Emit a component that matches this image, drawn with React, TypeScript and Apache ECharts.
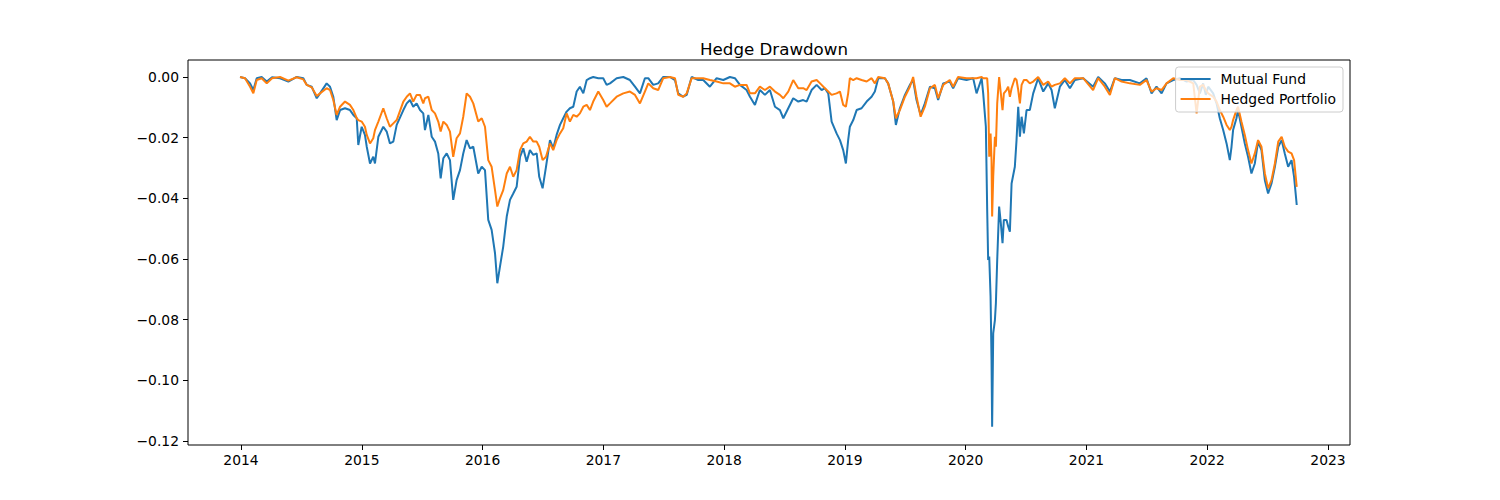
import React, { useEffect, useRef } from "react";
import * as echarts from "echarts";

// Decimal-year dates of the sampled points
const years = [
  2013.992, 2014.033, 2014.075, 2014.102, 2014.130, 2014.171, 2014.213, 2014.257, 2014.323, 2014.392,
  2014.461, 2014.516, 2014.544, 2014.585, 2014.627, 2014.654, 2014.709, 2014.737, 2014.764, 2014.792,
  2014.820, 2014.861, 2014.902, 2014.930, 2014.958, 2014.971, 2014.999, 2015.026, 2015.041, 2015.068,
  2015.095, 2015.109, 2015.137, 2015.178, 2015.206, 2015.233, 2015.261, 2015.289, 2015.344, 2015.372,
  2015.399, 2015.426, 2015.454, 2015.482, 2015.509, 2015.523, 2015.551, 2015.579, 2015.606, 2015.633,
  2015.653, 2015.675, 2015.703, 2015.730, 2015.757, 2015.785, 2015.813, 2015.840, 2015.868, 2015.896,
  2015.923, 2015.964, 2015.993, 2016.020, 2016.047, 2016.075, 2016.103, 2016.122, 2016.144, 2016.171,
  2016.200, 2016.227, 2016.254, 2016.282, 2016.310, 2016.337, 2016.365, 2016.392, 2016.420, 2016.448,
  2016.469, 2016.497, 2016.525, 2016.558, 2016.585, 2016.613, 2016.641, 2016.668, 2016.696, 2016.723,
  2016.751, 2016.779, 2016.806, 2016.834, 2016.862, 2016.889, 2016.916, 2016.958, 2016.999, 2017.027,
  2017.055, 2017.110, 2017.165, 2017.220, 2017.262, 2017.303, 2017.344, 2017.372, 2017.413, 2017.454,
  2017.496, 2017.551, 2017.593, 2017.620, 2017.661, 2017.690, 2017.731, 2017.786, 2017.827, 2017.882,
  2017.938, 2017.993, 2018.048, 2018.089, 2018.131, 2018.186, 2018.214, 2018.255, 2018.296, 2018.338,
  2018.379, 2018.421, 2018.462, 2018.490, 2018.531, 2018.572, 2018.614, 2018.655, 2018.683, 2018.724,
  2018.766, 2018.807, 2018.834, 2018.862, 2018.890, 2018.931, 2018.959, 2018.986, 2019.008, 2019.027,
  2019.041, 2019.069, 2019.097, 2019.138, 2019.180, 2019.221, 2019.248, 2019.276, 2019.331, 2019.358,
  2019.400, 2019.422, 2019.455, 2019.497, 2019.538, 2019.565, 2019.593, 2019.627, 2019.662, 2019.704,
  2019.745, 2019.772, 2019.814, 2019.868, 2019.896, 2019.937, 2020.007, 2020.062, 2020.090, 2020.132,
  2020.145, 2020.167, 2020.178, 2020.186, 2020.195, 2020.206, 2020.214, 2020.219, 2020.228, 2020.242,
  2020.250, 2020.261, 2020.277, 2020.291, 2020.305, 2020.316, 2020.338, 2020.352, 2020.366, 2020.380,
  2020.407, 2020.421, 2020.435, 2020.449, 2020.463, 2020.482, 2020.504, 2020.531, 2020.559, 2020.600,
  2020.642, 2020.683, 2020.711, 2020.738, 2020.780, 2020.821, 2020.863, 2020.904, 2020.973, 2021.055,
  2021.097, 2021.152, 2021.194, 2021.235, 2021.291, 2021.359, 2021.442, 2021.497, 2021.539, 2021.580,
  2021.622, 2021.663, 2021.718, 2021.773, 2021.829, 2021.884, 2021.912, 2021.939, 2021.966, 2021.988,
  2022.008, 2022.049, 2022.077, 2022.104, 2022.132, 2022.160, 2022.187, 2022.201, 2022.214, 2022.242,
  2022.255, 2022.283, 2022.311, 2022.338, 2022.366, 2022.394, 2022.421, 2022.449, 2022.477, 2022.504,
  2022.532, 2022.560, 2022.588, 2022.616, 2022.642, 2022.670, 2022.698, 2022.719, 2022.741,
];

const mutualFund = [
  0, -0.0004, -0.0021, -0.0043, -0.0004, 0, -0.0015, -0.0001, -0.0004, -0.0015,
  0, -0.0004, -0.0026, -0.0032, -0.0070, -0.0054, -0.0021, -0.0032, -0.0065, -0.0142,
  -0.0109, -0.0103, -0.0109, -0.0125, -0.0136, -0.0224, -0.0164, -0.0191, -0.0230, -0.0285,
  -0.0263, -0.0285, -0.0197, -0.0164, -0.0180, -0.0219, -0.0213, -0.0158, -0.0109, -0.0087,
  -0.0076, -0.0098, -0.0087, -0.0109, -0.0120, -0.0175, -0.0125, -0.0197, -0.0213, -0.0252,
  -0.0334, -0.0268, -0.0252, -0.0274, -0.0405, -0.0340, -0.0307, -0.0252, -0.0208, -0.0235,
  -0.0230, -0.0318, -0.0296, -0.0307, -0.0471, -0.0504, -0.0581, -0.0680, -0.0625, -0.0559,
  -0.0460, -0.0405, -0.0384, -0.0362, -0.0263, -0.0235, -0.0279, -0.0241, -0.0257, -0.0252,
  -0.0329, -0.0367, -0.0296, -0.0208, -0.0235, -0.0191, -0.0158, -0.0136, -0.0114, -0.0103,
  -0.0098, -0.0048, -0.0032, -0.0054, -0.0010, -0.0004, 0, -0.0004, -0.0004, -0.0026,
  -0.0021, -0.0004, 0, -0.0010, -0.0032, -0.0054, -0.0004, -0.0004, -0.0026, -0.0021,
  0, 0, -0.0010, -0.0054, -0.0065, -0.0059, 0, -0.0010, -0.0010, -0.0032,
  -0.0004, -0.0010, 0, -0.0004, -0.0026, -0.0043, -0.0065, -0.0092, -0.0043, -0.0059,
  -0.0043, -0.0098, -0.0109, -0.0136, -0.0103, -0.0070, -0.0081, -0.0076, -0.0081, -0.0043,
  -0.0026, -0.0043, -0.0037, -0.0054, -0.0147, -0.0186, -0.0208, -0.0241, -0.0285, -0.0208,
  -0.0164, -0.0142, -0.0109, -0.0103, -0.0081, -0.0065, -0.0048, -0.0004, -0.0004, -0.0021,
  -0.0081, -0.0158, -0.0103, -0.0059, -0.0026, -0.0010, -0.0076, -0.0125, -0.0087, -0.0032,
  -0.0037, -0.0076, -0.0021, -0.0015, -0.0037, -0.0004, -0.0010, -0.0004, -0.0054, -0.0004,
  -0.0054, -0.0164, -0.0438, -0.0603, -0.0592, -0.0724, -0.0933, -0.1153, -0.0845, -0.0801,
  -0.0746, -0.0603, -0.0427, -0.0482, -0.0548, -0.0471, -0.0471, -0.0493, -0.0510, -0.0351,
  -0.0296, -0.0208, -0.0098, -0.0197, -0.0131, -0.0186, -0.0109, -0.0109, -0.0054, -0.0004,
  -0.0048, -0.0021, -0.0043, -0.0103, -0.0032, -0.0010, -0.0037, -0.0010, -0.0004, -0.0032,
  0, -0.0021, -0.0048, -0.0004, -0.0010, -0.0010, -0.0021, -0.0004, -0.0054, -0.0032,
  -0.0054, -0.0021, -0.0010, -0.0004, -0.0015, -0.0010, -0.0026, -0.0054, -0.0021, -0.0059,
  -0.0032, -0.0054, -0.0087, -0.0136, -0.0175, -0.0219, -0.0274, -0.0230, -0.0175, -0.0136,
  -0.0109, -0.0164, -0.0219, -0.0263, -0.0318, -0.0285, -0.0213, -0.0241, -0.0340, -0.0384,
  -0.0351, -0.0296, -0.0230, -0.0208, -0.0252, -0.0296, -0.0274, -0.0329, -0.0422,
];

const hedgedPortfolio = [
  0, -0.0004, -0.0032, -0.0054, -0.0010, -0.0004, -0.0021, -0.0004, 0, -0.0012,
  -0.0001, -0.0008, -0.0026, -0.0034, -0.0063, -0.0054, -0.0037, -0.0043, -0.0076, -0.0125,
  -0.0098, -0.0081, -0.0092, -0.0109, -0.0136, -0.0142, -0.0147, -0.0164, -0.0191, -0.0219,
  -0.0202, -0.0175, -0.0147, -0.0103, -0.0136, -0.0164, -0.0153, -0.0142, -0.0081, -0.0065,
  -0.0054, -0.0081, -0.0059, -0.0059, -0.0087, -0.0070, -0.0065, -0.0109, -0.0120, -0.0147,
  -0.0180, -0.0147, -0.0158, -0.0180, -0.0263, -0.0202, -0.0186, -0.0131, -0.0054, -0.0065,
  -0.0087, -0.0147, -0.0136, -0.0164, -0.0274, -0.0296, -0.0373, -0.0427, -0.0400, -0.0373,
  -0.0318, -0.0296, -0.0329, -0.0307, -0.0241, -0.0219, -0.0213, -0.0197, -0.0213, -0.0213,
  -0.0230, -0.0274, -0.0263, -0.0219, -0.0241, -0.0208, -0.0186, -0.0169, -0.0120, -0.0147,
  -0.0125, -0.0131, -0.0120, -0.0098, -0.0092, -0.0109, -0.0081, -0.0048, -0.0076, -0.0098,
  -0.0087, -0.0065, -0.0054, -0.0048, -0.0059, -0.0087, -0.0048, -0.0021, -0.0037, -0.0043,
  -0.0004, 0, -0.0004, -0.0059, -0.0065, -0.0054, -0.0004, -0.0004, -0.0004, -0.0010,
  -0.0015, -0.0021, -0.0021, -0.0032, -0.0026, -0.0026, -0.0054, -0.0054, -0.0032, -0.0043,
  -0.0032, -0.0048, -0.0059, -0.0070, -0.0048, -0.0010, -0.0037, -0.0037, -0.0043, -0.0015,
  -0.0010, -0.0026, -0.0037, -0.0048, -0.0059, -0.0054, -0.0048, -0.0092, -0.0098, -0.0054,
  -0.0004, -0.0010, -0.0004, -0.0010, -0.0015, -0.0004, -0.0021, 0, -0.0004, -0.0021,
  -0.0081, -0.0136, -0.0109, -0.0065, -0.0032, 0, -0.0065, -0.0131, -0.0098, -0.0037,
  -0.0026, -0.0070, -0.0026, -0.0010, -0.0032, 0, -0.0004, -0.0004, -0.0004, 0,
  -0.0004, -0.0004, -0.0004, -0.0054, -0.0263, -0.0186, -0.0274, -0.0460, -0.0329, -0.0197,
  -0.0230, -0.0087, 0, -0.0054, -0.0109, -0.0054, -0.0043, -0.0032, -0.0065, -0.0037,
  -0.0004, -0.0010, -0.0043, -0.0087, -0.0026, -0.0010, -0.0010, -0.0021, -0.0015, 0,
  -0.0026, -0.0015, -0.0032, -0.0026, -0.0021, -0.0004, -0.0021, -0.0004, -0.0004, -0.0043,
  -0.0004, -0.0032, -0.0059, -0.0004, -0.0015, -0.0021, -0.0026, -0.0010, -0.0048, -0.0037,
  -0.0043, -0.0021, -0.0004, -0.0010, -0.0010, -0.0021, -0.0120, -0.0032, -0.0026, -0.0043,
  -0.0054, -0.0065, -0.0081, -0.0109, -0.0131, -0.0158, -0.0175, -0.0164, -0.0142, -0.0109,
  -0.0098, -0.0147, -0.0191, -0.0241, -0.0285, -0.0252, -0.0208, -0.0230, -0.0318, -0.0367,
  -0.0340, -0.0285, -0.0213, -0.0197, -0.0230, -0.0246, -0.0252, -0.0274, -0.0362,
];

const xTicks = [2014, 2015, 2016, 2017, 2018, 2019, 2020, 2021, 2022, 2023];
const yTicks = [0, -0.02, -0.04, -0.06, -0.08, -0.1, -0.12];

const FONT = "DejaVu Sans";

export default function App() {
  const ref = useRef<HTMLDivElement>(null);

  useEffect(() => {
    if (!ref.current) return;
    const chart = echarts.init(ref.current, undefined, { renderer: "svg" });
    const mf = years.map((y, i) => [y, mutualFund[i]]);
    const hp = years.map((y, i) => [y, hedgedPortfolio[i]]);
    chart.setOption({
      animation: false,
      backgroundColor: "#ffffff",
      title: {
        text: "Hedge Drawdown",
        left: 769,
        textAlign: "center",
        top: 36,
        textStyle: { fontFamily: FONT, fontSize: 16.67, fontWeight: "normal", color: "#000" },
      },
      legend: {
        data: ["Mutual Fund", "Hedged Portfolio"],
        orient: "vertical",
        right: 157,
        top: 67,
        icon: "rect",
        itemWidth: 30,
        itemHeight: 2,
        itemGap: 4,
        padding: [4, 7, 5, 5],
        backgroundColor: "rgba(255,255,255,0.8)",
        borderColor: "#cccccc",
        borderWidth: 1,
        borderRadius: 3,
        textStyle: {
          fontFamily: FONT,
          fontSize: 13.89,
          color: "#000",
          padding: [0, 0, 0, 5],
          lineHeight: 16,
        },
      },
      grid: {
        left: 188,
        right: 150,
        top: 60,
        bottom: 55,
        show: true,
        borderColor: "#000",
        borderWidth: 1,
        backgroundColor: "transparent",
      },
      xAxis: {
        type: "value",
        min: 2013.561,
        max: 2023.182,
        axisLine: { show: false, onZero: false },
        splitLine: { show: false },
        axisTick: {
          show: true,
          length: 5,
          customValues: xTicks,
          lineStyle: { color: "#000", width: 1 },
        },
        axisLabel: {
          customValues: xTicks,
          margin: 8,
          fontFamily: FONT,
          fontSize: 13.89,
          color: "#000",
          formatter: (v: number) => String(Math.round(v)),
        },
      },
      yAxis: {
        type: "value",
        min: -0.1213,
        max: 0.0056,
        axisLine: { show: false, onZero: false },
        splitLine: { show: false },
        axisTick: {
          show: true,
          length: 5,
          customValues: yTicks,
          lineStyle: { color: "#000", width: 1 },
        },
        axisLabel: {
          customValues: yTicks,
          margin: 9,
          fontFamily: FONT,
          fontSize: 13.89,
          color: "#000",
          formatter: (v: number) => {
            const s = Math.abs(v).toFixed(2);
            return v < -1e-9 ? "\u2212" + s : s;
          },
        },
      },
      series: [
        {
          name: "Mutual Fund",
          type: "line",
          data: mf,
          showSymbol: false,
          symbol: "none",
          lineStyle: { color: "#1f77b4", width: 2 },
          itemStyle: { color: "#1f77b4" },
        },
        {
          name: "Hedged Portfolio",
          type: "line",
          data: hp,
          showSymbol: false,
          symbol: "none",
          lineStyle: { color: "#ff7f0e", width: 2 },
          itemStyle: { color: "#ff7f0e" },
        },
      ],
    });
    return () => chart.dispose();
  }, []);

  return (
    <div
      ref={ref}
      style={{ position: "fixed", left: 0, top: 0, width: 1500, height: 500 }}
    />
  );
}
